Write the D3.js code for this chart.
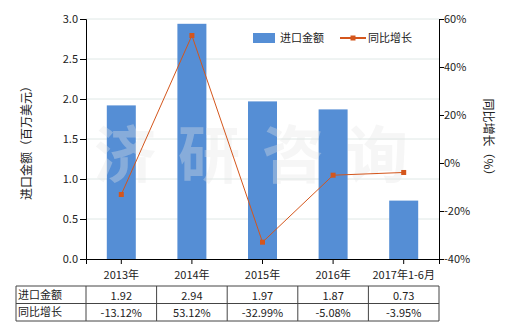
<!DOCTYPE html>
<html>
<head>
<meta charset="utf-8">
<script src="https://cdn.jsdelivr.net/npm/d3@7"></script>
<style>
  body { margin: 0; background: #fff; }
  text { font-family: "Noto Sans CJK SC", "Noto Sans", sans-serif; }
</style>
</head>
<body>
<div id="chart"></div>
<script>
const categories = ['2013年', '2014年', '2015年', '2016年', '2017年1-6月'];
const importValues = [1.92, 2.94, 1.97, 1.87, 0.73];
const growthValues = [-13.12, 53.12, -32.99, -5.08, -3.95];
const importLabels = ['1.92', '2.94', '1.97', '1.87', '0.73'];
const growthLabels = ['-13.12%', '53.12%', '-32.99%', '-5.08%', '-3.95%'];
const leftTicks = [0, 0.5, 1.0, 1.5, 2.0, 2.5, 3.0];
const rightTicks = [-40, -20, 0, 20, 40, 60];

const width = 520, height = 330;
const margin = { top: 19, left: 86, right: 439, bottom: 259 };
const barColor = '#558ed5';
const lineColor = '#d4561c';
const textColor = '#222';

const svg = d3.select('#chart').append('svg')
  .attr('width', width).attr('height', height);

const x = d3.scaleBand().domain(categories).range([margin.left, margin.right]);
const yL = d3.scaleLinear().domain([0, 3]).range([margin.bottom, margin.top]);
const yR = d3.scaleLinear().domain([-40, 60]).range([margin.bottom, margin.top]);

// gridlines
svg.append('g').selectAll('line').data(leftTicks.slice(1)).enter().append('line')
  .attr('x1', margin.left).attr('x2', margin.right)
  .attr('y1', d => yL(d)).attr('y2', d => yL(d))
  .attr('stroke', '#dfe8e6').attr('stroke-width', 1);

// bars
const barW = 29;
svg.append('g').selectAll('rect').data(importValues).enter().append('rect')
  .attr('x', (d, i) => x(categories[i]) + x.bandwidth() / 2 - barW / 2)
  .attr('y', d => yL(d))
  .attr('width', barW)
  .attr('height', d => yL(0) - yL(d))
  .attr('fill', barColor);

// watermark
svg.append('text')
  .attr('x', 262).attr('y', 178)
  .attr('text-anchor', 'middle')
  .attr('font-size', 62).attr('font-weight', 'bold')
  .attr('letter-spacing', 22)
  .attr('fill', '#e6e6e6').attr('opacity', 0.35)
  .text('济研咨询');

// left axis
const leftAxis = svg.append('g')
  .attr('transform', `translate(${margin.left},0)`)
  .call(d3.axisLeft(yL).tickValues(leftTicks).tickFormat(d3.format('.1f')).tickSizeOuter(0).tickSize(6));
leftAxis.select('.domain').attr('stroke', '#000');
leftAxis.selectAll('.tick line').attr('stroke', '#000');
leftAxis.selectAll('text').attr('font-size', 11).attr('fill', textColor).attr('dx', 1);

// right axis
const rightAxis = svg.append('g')
  .attr('transform', `translate(${margin.right},0)`)
  .call(d3.axisRight(yR).tickValues(rightTicks).tickFormat(d => d + '%').tickSizeOuter(0).tickSize(5));
rightAxis.select('.domain').attr('stroke', '#000');
rightAxis.selectAll('.tick line').attr('stroke', '#000');
rightAxis.selectAll('text').attr('font-size', 11).attr('fill', textColor).attr('dx', -3);

// bottom axis
const bottomAxis = svg.append('g')
  .attr('transform', `translate(0,${margin.bottom})`)
  .call(d3.axisBottom(x).tickSizeOuter(0).tickSize(5));
bottomAxis.select('.domain').attr('stroke', '#000');
bottomAxis.selectAll('.tick line').attr('stroke', '#000');
bottomAxis.selectAll('text').attr('font-size', 11).attr('fill', textColor).attr('dy', '1.1em');

// growth line
const line = d3.line()
  .x((d, i) => x(categories[i]) + x.bandwidth() / 2)
  .y(d => yR(d));
svg.append('path')
  .attr('d', line(growthValues))
  .attr('fill', 'none').attr('stroke', lineColor).attr('stroke-width', 1);
svg.append('g').selectAll('rect').data(growthValues).enter().append('rect')
  .attr('x', (d, i) => x(categories[i]) + x.bandwidth() / 2 - 2.5)
  .attr('y', d => yR(d) - 2.5)
  .attr('width', 5).attr('height', 5)
  .attr('fill', lineColor);

// axis titles
svg.append('text')
  .attr('transform', 'translate(31,140) rotate(-90)')
  .attr('text-anchor', 'middle').attr('font-size', 12).attr('fill', textColor)
  .text('进口金额（百万美元）');
svg.append('text')
  .attr('transform', 'translate(484,140) rotate(90)')
  .attr('text-anchor', 'middle').attr('font-size', 12).attr('fill', textColor)
  .text('同比增长（%）');

// legend
const legend = svg.append('g');
legend.append('rect').attr('x', 253).attr('y', 33).attr('width', 22).attr('height', 10).attr('fill', barColor);
legend.append('text').attr('x', 280).attr('y', 42).attr('font-size', 11).attr('fill', textColor).text('进口金额');
legend.append('line').attr('x1', 340).attr('x2', 366).attr('y1', 38).attr('y2', 38)
  .attr('stroke', lineColor).attr('stroke-width', 2);
legend.append('rect').attr('x', 350.5).attr('y', 35.5).attr('width', 5).attr('height', 5).attr('fill', lineColor);
legend.append('text').attr('x', 368).attr('y', 42).attr('font-size', 11).attr('fill', textColor).text('同比增长');

// data table
const tableTop = 286, rowH = 17.5, tableLeft = 16;
const rows = [
  { name: '进口金额', labels: importLabels },
  { name: '同比增长', labels: growthLabels }
];
const table = svg.append('g');
const tableStroke = '#444';
rows.forEach((r, ri) => {
  const yTop = tableTop + ri * rowH;
  table.append('text')
    .attr('x', tableLeft + 2).attr('y', yTop + rowH / 2 + 4)
    .attr('font-size', 11).attr('fill', textColor).text(r.name);
  r.labels.forEach((lab, i) => {
    table.append('text')
      .attr('x', x(categories[i]) + x.bandwidth() / 2)
      .attr('y', yTop + rowH / 2 + 5)
      .attr('text-anchor', 'middle').attr('font-size', 11).attr('fill', textColor)
      .text(lab);
  });
});
// table grid
[0, 1, 2].forEach(k => {
  table.append('line')
    .attr('x1', tableLeft).attr('x2', margin.right)
    .attr('y1', tableTop + k * rowH).attr('y2', tableTop + k * rowH)
    .attr('stroke', tableStroke);
});
const vLines = [tableLeft, margin.left].concat(categories.map(c => x(c) + x.bandwidth()));
vLines.forEach(vx => {
  table.append('line')
    .attr('x1', vx).attr('x2', vx)
    .attr('y1', tableTop).attr('y2', tableTop + 2 * rowH)
    .attr('stroke', tableStroke);
});
</script>
</body>
</html>
